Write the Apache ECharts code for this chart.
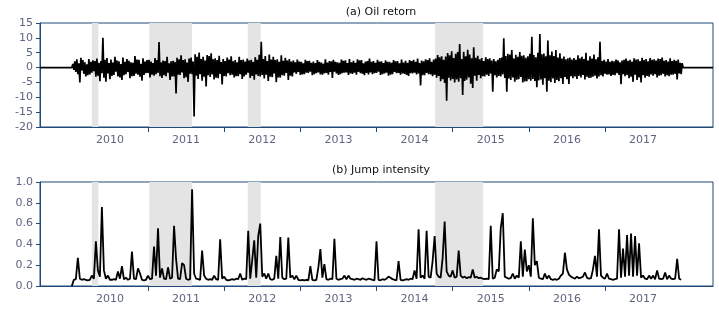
<!DOCTYPE html>
<html><head><meta charset="utf-8">
<script src="https://cdn.jsdelivr.net/npm/echarts@6/dist/echarts.min.js"></script>
<style>html,body{margin:0;padding:0;background:#fff}#c{width:719px;height:309px}</style>
</head><body><div id="c"></div>
<script>
// Time axis in fractional years starting 2010.0
const START_YEAR = 2010;
const OIL_STEP = 1 / 76;   // oil return observations
const JUMP_STEP = 1 / 38;  // jump intensity observations
const X_MIN = 2009.582, X_MAX = 2018.418;
const yearLabels = [2010, 2011, 2012, 2013, 2014, 2015, 2016, 2017];
const yearTicks = [2011, 2012, 2013, 2014, 2015, 2016, 2017];
// shaded periods [from, to]
const shadedPeriods = [[2010.263, 2010.348], [2011.017, 2011.578], [2012.31, 2012.48], [2014.77, 2015.40]];

const oilReturn = [0,
1.2,-0.8,2.1,-1.5,2.8,-2.2,1.4,-5.0,3.3,-1.0,2.5,-2.1,1.8,-3.0,1.1,-2.6,2.9,-2.3,1.9,-1.7,
2.4,-1.2,2.2,-3.1,3.0,-2.7,1.6,-4.6,2.2,-1.9,10.0,-3.4,2.6,-4.8,3.2,-2.0,1.5,-3.9,2.7,-2.8,
1.7,-2.5,3.6,-1.4,2.4,-3.0,2.1,-3.3,1.2,-4.2,3.4,-2.6,1.9,-2.2,2.9,-1.5,2.3,-3.6,1.8,-2.9,
1.6,-2.8,3.9,-2.1,2.7,-2.4,2.6,-3.1,1.3,-4.4,3.1,-2.5,2.0,-1.9,2.5,-1.8,2.6,-3.3,2.0,-2.4,
1.5,-2.7,3.2,-2.2,2.5,-1.8,8.6,-2.9,1.8,-3.5,2.4,-2.6,2.2,-2.9,3.6,-1.7,1.4,-4.2,2.1,-3.0,
2.3,-3.0,1.9,-8.7,3.3,-2.4,2.8,-2.5,4.1,-1.6,2.5,-3.6,2.8,-3.2,1.7,-4.8,3.0,-2.1,3.4,-2.2,
2.0,-16.5,4.5,-2.7,3.6,-3.8,5.1,-2.2,2.9,-4.4,3.6,-3.1,2.4,-6.4,4.2,-2.6,3.9,-3.2,4.8,-2.3,
2.8,-4.0,3.1,-3.4,2.5,-3.6,4.0,-2.1,1.9,-5.7,2.9,-2.8,2.2,-3.0,3.4,-1.9,2.7,-2.6,3.8,-2.4,
2.1,-3.3,2.5,-2.9,1.8,-2.9,3.6,-2.2,2.5,-3.8,2.7,-3.0,2.0,-2.4,3.0,-1.7,2.4,-3.5,2.6,-2.8,
1.9,-4.1,3.5,-2.3,2.6,-2.8,4.3,-3.0,8.7,-2.5,2.9,-3.7,3.9,-2.4,2.2,-4.5,4.4,-3.1,2.7,-3.2,
3.6,-2.0,2.5,-4.9,2.8,-3.3,1.9,-3.4,4.1,-2.6,2.3,-2.7,3.3,-1.8,2.4,-4.2,2.9,-2.7,2.0,-3.0,
2.4,-1.6,1.8,-2.1,2.7,-1.5,2.0,-2.5,1.9,-2.3,1.4,-2.2,2.6,-1.7,2.2,-1.8,2.3,-1.4,1.6,-2.6,
2.0,-2.2,1.5,-1.9,2.5,-1.6,1.9,-2.3,1.7,-2.4,1.3,-2.0,2.8,-1.8,1.7,-2.4,2.2,-1.5,2.1,-3.5,
2.6,-1.4,1.9,-2.0,1.8,-2.5,1.6,-2.2,2.7,-1.9,2.3,-1.7,2.4,-1.6,1.5,-2.5,2.9,-2.0,1.8,-2.1,
2.3,-1.7,1.6,-2.4,2.8,-1.5,2.4,-1.9,2.5,-2.1,1.4,-2.6,2.0,-1.8,2.2,-2.3,3.0,-1.6,1.9,-2.2,
2.2,-1.9,1.6,-1.8,2.6,-1.4,2.0,-2.5,2.1,-2.2,1.5,-2.0,2.4,-1.7,1.9,-2.7,1.9,-2.4,1.6,-2.2,
2.5,-1.5,2.1,-1.9,2.2,-1.8,1.4,-2.4,2.7,-2.0,1.7,-2.1,2.3,-2.5,1.6,-2.8,2.5,-1.9,2.2,-2.0,
2.6,-1.7,1.9,-2.3,3.0,-2.0,1.5,-6.0,2.4,-2.6,2.1,-2.6,2.8,-1.8,2.5,-2.2,3.1,-2.3,1.9,-2.9,
2.7,-2.4,3.0,-3.4,4.2,-2.8,3.5,-4.6,3.8,-3.9,2.6,-5.2,3.7,-11.2,4.9,-3.4,4.1,-4.3,5.5,-3.8,
3.2,-5.0,4.6,-4.0,5.2,-4.8,7.9,-3.6,2.9,-9.2,5.3,-4.5,3.8,-4.1,6.0,-3.3,4.4,-5.4,3.1,-6.9,
6.8,-2.7,3.3,-4.4,4.0,-2.5,2.8,-3.6,3.2,-2.9,2.2,-3.0,3.5,-2.4,2.9,-2.8,3.1,-2.0,2.4,-8.1,
2.9,-2.6,2.1,-3.3,2.6,-2.8,3.2,-3.0,3.4,-2.3,9.9,-3.5,3.9,-8.1,4.6,-3.7,4.4,-4.2,5.9,-3.3,
3.0,-4.8,4.3,-4.1,3.6,-3.9,5.2,-3.2,4.0,-5.0,4.1,-4.7,3.3,-4.6,3.8,-3.9,4.6,-4.4,10.4,-3.8,
4.2,-4.5,3.5,-6.6,5.0,-4.3,11.3,-4.0,4.5,-5.8,4.7,-3.6,3.8,-8.1,9.1,-4.4,4.1,-4.9,5.4,-3.7,
3.9,-5.2,5.9,-4.2,3.4,-4.6,4.8,-3.6,3.0,-5.5,3.7,-3.2,2.8,-3.9,3.1,-5.5,3.4,-2.9,2.7,-3.6,
3.2,-3.0,2.6,-3.8,4.1,-2.8,3.1,-3.3,3.6,-2.5,2.9,-4.0,5.0,-3.1,2.4,-3.5,3.8,-3.4,3.0,-3.1,
4.4,-2.7,2.8,-3.7,3.5,-3.0,8.7,-2.6,2.2,-3.0,2.6,-2.1,2.0,-2.4,2.9,-2.3,1.9,-2.8,2.3,-2.5,
2.1,-2.6,2.7,-1.9,2.4,-2.5,1.8,-5.6,2.4,-2.2,2.6,-2.9,3.0,-2.5,2.3,-3.6,2.6,-3.1,2.0,-4.8,
3.1,-2.4,2.7,-4.2,2.8,-3.3,2.2,-5.0,3.3,-2.6,2.5,-3.4,2.9,-2.8,2.1,-3.1,3.2,-2.3,2.6,-2.7,
2.8,-2.2,2.4,-3.3,3.0,-2.7,2.9,-2.6,3.4,-2.1,2.3,-3.0,2.5,-2.6,2.0,-2.9,3.1,-2.4,2.2,-2.4,
2.6,-2.1,2.3,-4.0,2.7,-2.0,1.6,-2.2,1.5,0
];

const jumpIntensity = [
0.0,0.06,0.065,0.27,0.07,0.06,0.065,0.06,0.055,0.06,
0.10,0.07,0.43,0.15,0.09,0.76,0.15,0.07,0.10,0.06,
0.06,0.065,0.06,0.14,0.07,0.19,0.065,0.08,0.06,0.07,
0.33,0.07,0.065,0.17,0.12,0.06,0.055,0.06,0.10,0.065,
0.07,0.38,0.10,0.555,0.08,0.17,0.07,0.065,0.18,0.07,
0.08,0.58,0.26,0.07,0.065,0.22,0.20,0.07,0.06,0.065,
0.93,0.12,0.07,0.065,0.06,0.34,0.10,0.07,0.06,0.065,
0.06,0.10,0.065,0.06,0.45,0.07,0.09,0.06,0.055,0.06,
0.065,0.06,0.07,0.065,0.12,0.06,0.07,0.065,0.53,0.07,
0.25,0.44,0.08,0.48,0.60,0.09,0.12,0.07,0.12,0.065,
0.06,0.07,0.29,0.07,0.47,0.08,0.065,0.07,0.465,0.08,
0.10,0.065,0.10,0.06,0.055,0.06,0.055,0.06,0.055,0.19,
0.06,0.055,0.06,0.18,0.355,0.08,0.21,0.065,0.06,0.07,
0.065,0.455,0.07,0.06,0.065,0.07,0.10,0.065,0.10,0.07,
0.065,0.06,0.07,0.065,0.06,0.075,0.065,0.06,0.07,0.065,
0.06,0.055,0.43,0.06,0.055,0.065,0.06,0.07,0.09,0.08,
0.065,0.06,0.055,0.24,0.06,0.055,0.06,0.065,0.06,0.07,
0.065,0.15,0.07,0.545,0.08,0.10,0.07,0.53,0.09,0.08,
0.24,0.48,0.12,0.09,0.08,0.27,0.62,0.14,0.10,0.09,
0.15,0.08,0.09,0.34,0.10,0.08,0.09,0.075,0.085,0.08,
0.16,0.08,0.09,0.075,0.08,0.07,0.065,0.07,0.065,0.58,
0.07,0.08,0.16,0.14,0.56,0.70,0.09,0.08,0.07,0.075,
0.12,0.07,0.10,0.08,0.43,0.09,0.35,0.14,0.20,0.09,
0.65,0.20,0.24,0.08,0.07,0.065,0.12,0.07,0.10,0.065,
0.06,0.065,0.06,0.07,0.10,0.12,0.32,0.16,0.11,0.09,
0.08,0.07,0.09,0.075,0.08,0.09,0.13,0.08,0.07,0.075,
0.16,0.29,0.09,0.545,0.10,0.08,0.07,0.12,0.07,0.065,
0.06,0.065,0.07,0.545,0.08,0.36,0.09,0.49,0.10,0.505,
0.09,0.48,0.10,0.41,0.08,0.10,0.07,0.065,0.10,0.07,
0.10,0.065,0.15,0.07,0.065,0.07,0.13,0.065,0.10,0.07,
0.065,0.07,0.26,0.07,0.06
];

const AXIS = '#1f4a78';
const LABEL = '#5d6680';
const FONT = 'DejaVu Sans';

const toPairs = (arr, step) => arr.map((v, i) => [START_YEAR + i * step, v]);
const oilPairs = [[X_MIN, 0]].concat(toPairs(oilReturn, OIL_STEP), [[X_MAX, 0]]);
const jumpPairs = toPairs(jumpIntensity, JUMP_STEP);

function xAxisFor(gi) {
  return {
    type: 'value', gridIndex: gi, min: X_MIN, max: X_MAX,
    splitLine: { show: false },
    axisLine: { show: true, onZero: false, lineStyle: { color: AXIS, width: 1 } },
    axisTick: { show: true, length: 5, lineStyle: { color: AXIS }, customValues: yearTicks },
    axisLabel: { customValues: yearLabels.map(y => y + 0.5), formatter: v => String(Math.floor(v)),
      color: LABEL, fontFamily: FONT, fontSize: 11, margin: 8 }
  };
}
function yAxisFor(gi, min, max, interval, fmt) {
  return {
    type: 'value', gridIndex: gi, min, max, interval,
    splitLine: { show: false },
    axisLine: { show: true, lineStyle: { color: AXIS, width: 1 } },
    axisTick: { show: true, length: 4, lineStyle: { color: AXIS } },
    axisLabel: { color: LABEL, fontFamily: FONT, fontSize: 11, margin: 7, formatter: fmt }
  };
}
const shadeAreas = shadedPeriods.map(p => [{ xAxis: p[0] }, { xAxis: p[1] }]);

const chart = echarts.init(document.getElementById('c'), null, { renderer: 'canvas' });
chart.setOption({
  animation: false,
  title: [
    { text: '(a) Oil retorn', left: 376, top: 2, textAlign: 'center',
      textStyle: { fontFamily: FONT, fontSize: 11, fontWeight: 'normal', color: '#111' } },
    { text: '(b) Jump intensity', left: 376, top: 160, textAlign: 'center',
      textStyle: { fontFamily: FONT, fontSize: 11, fontWeight: 'normal', color: '#111' } }
  ],
  grid: [
    { left: 40, right: 6, top: 23, height: 104, show: true, borderColor: AXIS, borderWidth: 1, backgroundColor: 'transparent' },
    { left: 40, right: 6, top: 182, height: 104, show: true, borderColor: AXIS, borderWidth: 1, backgroundColor: 'transparent' }
  ],
  xAxis: [xAxisFor(0), xAxisFor(1)],
  yAxis: [
    yAxisFor(0, -20, 15, 5, v => String(v)),
    yAxisFor(1, 0, 1, 0.2, v => v.toFixed(1))
  ],
  series: [
    { type: 'line', xAxisIndex: 0, yAxisIndex: 0, data: [], z: 1, silent: true,
      markArea: { silent: true, itemStyle: { color: '#e4e4e4' }, data: shadeAreas } },
    { type: 'line', xAxisIndex: 1, yAxisIndex: 1, data: [], z: 1, silent: true,
      markArea: { silent: true, itemStyle: { color: '#e4e4e4' }, data: shadeAreas } },
    { type: 'line', xAxisIndex: 0, yAxisIndex: 0, data: oilPairs, showSymbol: false, symbol: 'none', z: 3,
      lineStyle: { color: '#000', width: 1.7 } },
    { type: 'line', xAxisIndex: 1, yAxisIndex: 1, data: jumpPairs, showSymbol: false, symbol: 'none', z: 3,
      lineStyle: { color: '#000', width: 1.8 } }
  ]
});
</script></body></html>
